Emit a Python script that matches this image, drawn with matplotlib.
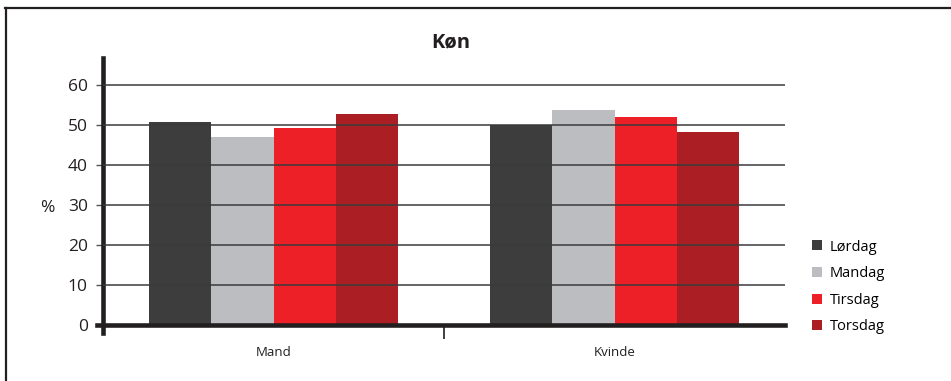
import matplotlib
matplotlib.use("Agg")
import matplotlib.pyplot as plt
from matplotlib.lines import Line2D
import numpy as np

categories = ["Mand", "Kvinde"]
series_names = ["Lørdag", "Mandag", "Tirsdag", "Torsdag"]
values = {
    "Lørdag": [50.7, 49.9],
    "Mandag": [46.9, 53.7],
    "Tirsdag": [49.2, 51.9],
    "Torsdag": [52.7, 48.2],
}
colors = {
    "Lørdag": "#3d3d3d",
    "Mandag": "#bcbdc0",
    "Tirsdag": "#ed1f27",
    "Torsdag": "#ab1e23",
}
yticks = [0, 10, 20, 30, 40, 50, 60]
title = "Køn"
ylabel = "%"

plt.rcParams['font.family'] = ['Open Sans', 'DejaVu Sans']

W, H = 951, 381
fig = plt.figure(figsize=(W / 100, H / 100), dpi=100)
ax = fig.add_axes([103 / W, 1 - 325 / H, (785 - 103) / W, (325 - 58) / H])

x = np.arange(len(categories))
bw = 0.182
n = len(series_names)
for i, name in enumerate(series_names):
    ax.bar(x + (i - (n - 1) / 2) * bw, values[name], width=bw, color=colors[name],
           zorder=2, linewidth=0)

ax.set_xlim(-0.5, 1.5)
ax.set_ylim(0, 66.75)
ax.set_yticks(yticks)
ax.set_yticklabels([str(t) for t in yticks], fontsize=12.5, color="#231f20")
ax.tick_params(axis='y', length=5, width=1, color="#555555", pad=6)

for t in yticks[1:]:
    ax.axhline(t, color="#3a3a3a", lw=1.1, zorder=3)

ax.set_xticks([0.5])
ax.set_xticklabels([""])
ax.tick_params(axis='x', length=10, width=1.2, color="#231f20")
for xi, lab in zip(x, categories):
    ax.text(xi, -5.3, lab, ha='center', va='top', fontsize=9.5, color="#231f20")

for s in ['top', 'right']:
    ax.spines[s].set_visible(False)
ax.spines['left'].set_linewidth(3.3)
ax.spines['left'].set_color("#231f20")
ax.spines['left'].set_bounds(-2.0, 66.75)
ax.spines['bottom'].set_linewidth(3.3)
ax.spines['bottom'].set_color("#231f20")
ax.spines['bottom'].set_bounds(-0.518, 1.5)
ax.spines['bottom'].set_zorder(4)

fig.text(451 / W, 1 - 42 / H, title, ha='center', va='center', fontsize=14.5,
         fontweight='bold', color="#231f20")
fig.text(47 / W, 1 - 208 / H, ylabel, ha='center', va='center', fontsize=12.5,
         color="#231f20")

handles = [Line2D([], [], marker='s', linestyle='none', markersize=7.5,
                  markerfacecolor=colors[s], markeredgewidth=0) for s in series_names]
fig.legend(handles, series_names, loc='center left',
           bbox_to_anchor=(810 / W, 1 - 287 / H), frameon=False, fontsize=10.5,
           handlelength=1.0, handletextpad=0.35, labelspacing=0.8, borderpad=0,
           borderaxespad=0)

fig.add_artist(Line2D([5 / W, 1], [1 - 7.5 / H, 1 - 7.5 / H], transform=fig.transFigure,
                      color="#231f20", lw=1.6))
fig.add_artist(Line2D([5.5 / W, 5.5 / W], [0, 1 - 7.5 / H], transform=fig.transFigure,
                      color="#231f20", lw=1.6))

fig.savefig("out.png", dpi=100)
